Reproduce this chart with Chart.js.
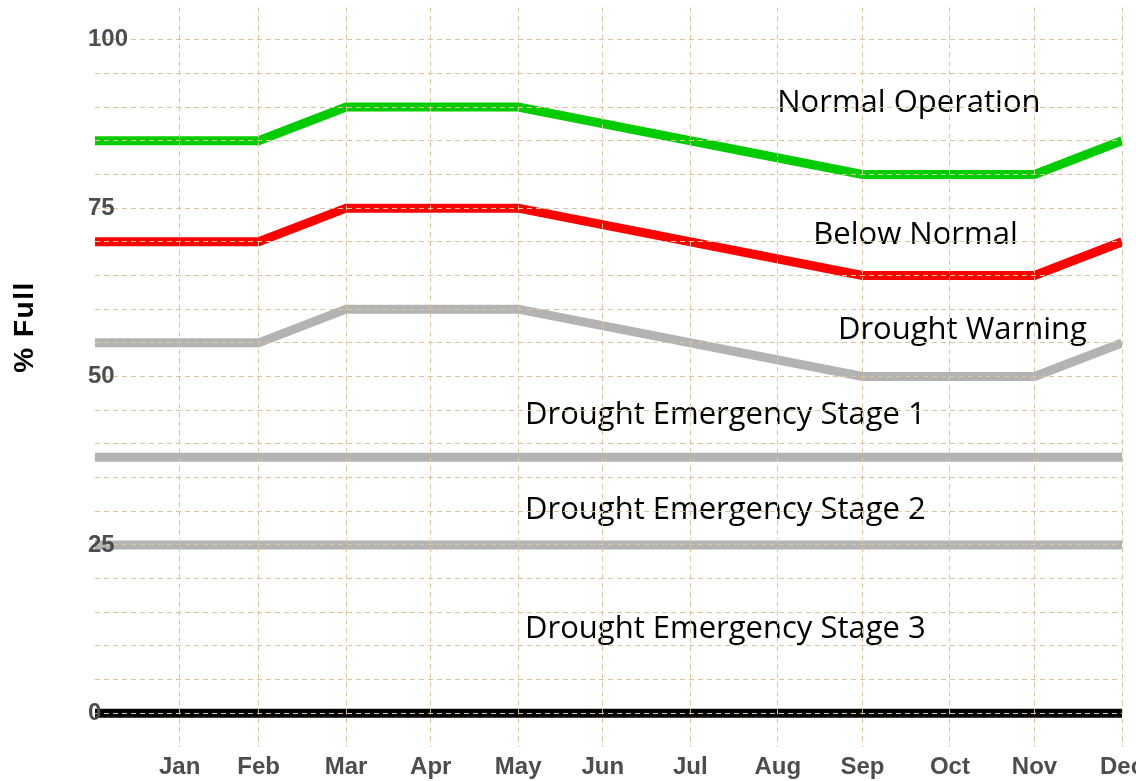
<!DOCTYPE html>
<html>
<head>
<meta charset="utf-8">
<script src="https://cdn.jsdelivr.net/npm/chart.js@4.4.1/dist/chart.umd.min.js"></script>
<style>
html, body { margin: 0; padding: 0; background: #ffffff; overflow: hidden; width: 1136px; height: 781px; }
#wrap { position: absolute; left: 0; top: 0; width: 1152px; height: 781px; }
</style>
</head>
<body>
<div id="wrap"><canvas id="chart"></canvas></div>
<script>
// ---- data ----
const monthLabels = ['Jan', 'Feb', 'Mar', 'Apr', 'May', 'Jun', 'Jul', 'Aug', 'Sep', 'Oct', 'Nov', 'Dec'];
const monthEndDays = [31, 59, 90, 120, 151, 181, 212, 243, 273, 304, 334, 365];
const breakDays = [1, 59, 90, 151, 273, 334, 365];
const normalOperation = [85, 85, 90, 90, 80, 80, 85];
const belowNormal = [70, 70, 75, 75, 65, 65, 70];
const droughtWarning = [55, 55, 60, 60, 50, 50, 55];
const emergencyStage1 = [38, 38, 38, 38, 38, 38, 38];
const emergencyStage2 = [25, 25, 25, 25, 25, 25, 25];
const emergencyStage3 = [0, 0, 0, 0, 0, 0, 0];
const yGridValues = [0, 5, 10, 15, 20, 25, 30, 35, 40, 45, 50, 55, 60, 65, 70, 75, 80, 85, 90, 95, 100];
const yLabelledValues = [0, 25, 50, 75, 100];
const yAxisTitle = '% Full';
const zoneLabels = ['Normal Operation', 'Below Normal', 'Drought Warning',
  'Drought Emergency Stage 1', 'Drought Emergency Stage 2', 'Drought Emergency Stage 3'];
const zoneLabelDays = [242.8, 255.6, 264.3, 153.4, 153.4, 153.4];
const zoneLabelValues = [89.2, 69.7, 55.6, 43.0, 28.8, 11.25];

// ---- styling ----
const gridColor = 'rgb(218, 196, 160)';
const tickFont = { family: "'Liberation Sans', Arial, sans-serif", size: 24, weight: 'bold' };
const tickColor = '#4d4d4d';

function series(values) {
  return breakDays.map((d, i) => ({ x: d, y: values[i] }));
}
function lineDs(label, values, color) {
  return {
    label: label,
    data: series(values),
    borderColor: color,
    backgroundColor: color,
    borderWidth: 9,
    pointRadius: 0,
    pointHoverRadius: 0,
    tension: 0,
    fill: false,
    borderCapStyle: 'butt'
  };
}

const textPlugin = {
  id: 'zoneText',
  beforeDatasetsDraw(chart) {
    const { ctx, scales } = chart;
    ctx.save();
    ctx.font = "31px 'Open Sans', Lato, sans-serif";
    ctx.fillStyle = '#000000';
    ctx.textAlign = 'left';
    ctx.textBaseline = 'alphabetic';
    zoneLabels.forEach((t, i) => {
      ctx.fillText(t, scales.x.getPixelForValue(zoneLabelDays[i]), scales.y.getPixelForValue(zoneLabelValues[i]));
    });
    ctx.restore();
  },
  afterDraw(chart) {
    const { ctx } = chart;
    ctx.save();
    ctx.translate(25, 327);
    ctx.rotate(-Math.PI / 2);
    ctx.font = "bold 28px 'Liberation Sans', Arial, sans-serif";
    ctx.fillStyle = '#000000';
    ctx.textAlign = 'center';
    ctx.textBaseline = 'middle';
    if ('letterSpacing' in ctx) ctx.letterSpacing = '1.5px';
    ctx.fillText(yAxisTitle, 0, 0);
    ctx.restore();
  }
};

new Chart(document.getElementById('chart'), {
  type: 'line',
  data: {
    datasets: [
      lineDs('Normal Operation', normalOperation, '#00cc00'),
      lineDs('Below Normal', belowNormal, '#ff0000'),
      lineDs('Drought Warning', droughtWarning, '#b3b3b3'),
      lineDs('Drought Emergency Stage 1', emergencyStage1, '#b3b3b3'),
      lineDs('Drought Emergency Stage 2', emergencyStage2, '#b3b3b3'),
      lineDs('Drought Emergency Stage 3', emergencyStage3, '#000000')
    ]
  },
  options: {
    responsive: true,
    maintainAspectRatio: false,
    animation: false,
    devicePixelRatio: 1,
    layout: { padding: { left: 0, top: 5, right: 30, bottom: 0 } },
    plugins: { legend: { display: false }, tooltip: { enabled: false }, title: { display: false } },
    scales: {
      x: {
        type: 'linear',
        min: 1,
        max: 365,
        afterBuildTicks: (s) => { s.ticks = monthEndDays.map(v => ({ value: v })); },
        afterFit: (s) => { s.height = 34; },
        ticks: {
          z: 1,
          autoSkip: false,
          maxRotation: 0,
          padding: 6,
          font: tickFont,
          color: tickColor,
          callback: (v) => monthLabels[monthEndDays.indexOf(v)]
        },
        grid: { z: 1, color: gridColor, lineWidth: 1, drawTicks: false },
        border: { display: false, dash: [5, 4] }
      },
      y: {
        type: 'linear',
        min: -5,
        max: 104.8,
        afterBuildTicks: (s) => { s.ticks = yGridValues.map(v => ({ value: v })); },
        afterFit: (s) => { s.width = 95; },
        ticks: {
          z: 1,
          autoSkip: false,
          mirror: true,
          padding: -7,
          font: tickFont,
          color: tickColor,
          callback: (v) => yLabelledValues.includes(v) ? String(v) : ''
        },
        grid: { z: 1, color: gridColor, lineWidth: 1, drawTicks: false },
        border: { display: false, dash: [5, 4] }
      }
    }
  },
  plugins: [textPlugin]
});
</script>
</body>
</html>
